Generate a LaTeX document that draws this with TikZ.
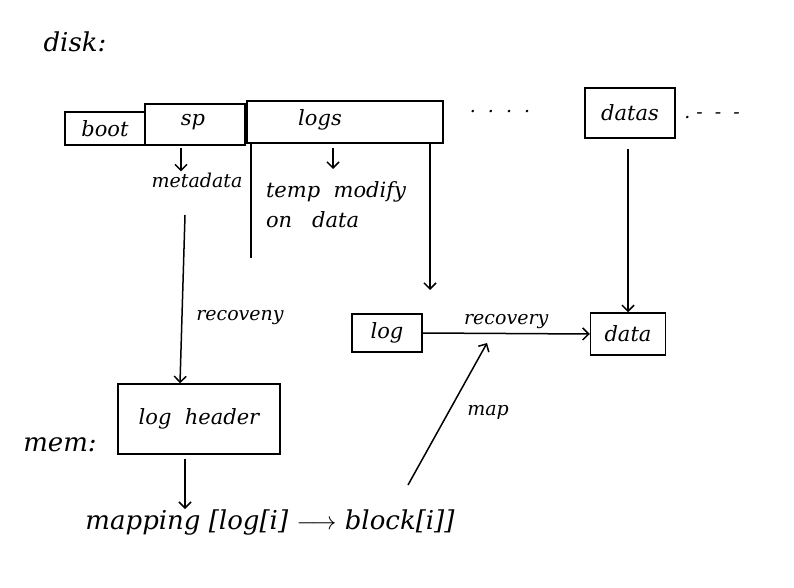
\documentclass[tikz,border=0pt]{standalone}
\usepackage{fontspec}
\setmainfont{DejaVu Serif}
\usetikzlibrary{arrows.meta}
\begin{document}
\begin{tikzpicture}[x=1pt,y=-1pt,
  box/.style={draw,line width=1.5pt,inner sep=0pt,font=\itshape\fontsize{21}{24}\selectfont},
  txt/.style={font=\itshape\fontsize{19}{22}\selectfont,inner sep=1pt},
  big/.style={font=\itshape\fontsize{26}{30}\selectfont,inner sep=1pt},
  conn/.style={line width=1.5pt,-{Straight Barb[length=6pt,width=12pt,line width=1.5pt]}},
  plain/.style={line width=1.5pt}]
\useasboundingbox (0,0) rectangle (794,588);
\node[big] (disk) at (75,42) {disk:};
% disk bar
\node[box,minimum width=80pt,minimum height=33pt] (boot) at (105,128.5) {boot};
\node[box,minimum width=100pt,minimum height=41pt] (sp) at (195,124.5) {};
\node[txt,font=\itshape\fontsize{21}{24}\selectfont] (sptxt) at (193,122) {sp};
\node[box,minimum width=196pt,minimum height=42pt] (logs) at (345,122) {};
\node[txt,font=\itshape\fontsize{21}{24}\selectfont] (logstxt) at (320,120) {logs};
\node[txt] (dots1) at (500,112) {.\ \ .\ \ .\ \ .};
\node[box,minimum width=90pt,minimum height=50pt] (datas) at (630,113) {datas};
\node[txt] (dots2) at (712,116) {.\ -\ \ -\ \ -};
% labels under bar
\node[txt] (meta) at (197,180) {metadata};
\node[txt,align=left,font=\itshape\fontsize{21}{30}\selectfont] (temp) at (336,205) {temp\ \ modify\\on\ \ \ data};
\draw[conn] (181,148) -- (meta.north -| 181,0);
\draw[conn] (333,148) -- (333,169);
% partition line
\coordinate (p0) at (251,143);
\coordinate (p1) at (251,258);
\draw[plain] (p0) -- (p1);
% memory side
\node[box,minimum width=70pt,minimum height=38pt] (log) at (387,333) {log};
\node[box,minimum width=75pt,minimum height=42pt] (data) at (628,334) {data};
\node[box,minimum width=162pt,minimum height=70pt] (lh) at (199,419) {log\ \ header};
\node[big] (mem) at (60,445) {mem:};
\node[big] (mapping) at (270,523) {mapping [log[i] $\longrightarrow$ block[i]]};
% connectors
\coordinate (lsE) at (430,143);
\coordinate (lsEnd) at (430,290);
\draw[conn] (lsE) -- (lsEnd);
\coordinate (mstart) at (185,215);
\draw[conn] (mstart) -- (lh.north -| 180,0);
\node[txt] (rec1) at (240,318) {recoveny};
\draw[conn] (datas.south) ++(-2,10) -- (data.north);
\draw[conn] (log.east) -- node[txt,above=3pt] (rec2) {recovery} (data.west);
\draw[conn] (lh.south -| 185,0) ++(0,4) -- (mapping.north -| 185,0);
\coordinate (mapstart) at (408,485);
\coordinate (mapend) at (487,343);
\draw[conn] (mapstart) -- (mapend);
\node[txt] (maptxt) at (488,412) {map};
\end{tikzpicture}
\end{document}
